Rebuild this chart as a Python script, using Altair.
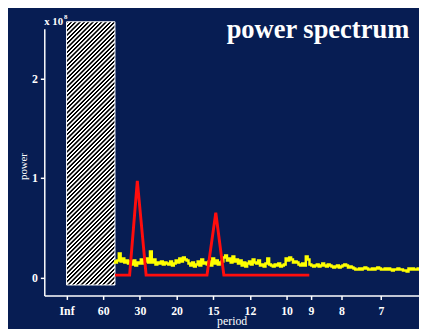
import altair as alt
import pandas as pd

# ---------------- data ----------------
period_labels = ["Inf", "60", "30", "20", "15", "12", "10", "9", "8", "7"]
power_ticks = [0, 1, 2]

# yellow spectrum, sampled on a regular frequency grid (cycles per 60 units)
yellow_freq_start = 1.30
yellow_freq_step = 0.05
yellow_power = [
    0.16, 0.15, 0.17, 0.24, 0.16, 0.19, 0.15, 0.17, 0.14, 0.16,
    0.13, 0.17, 0.12, 0.15, 0.14, 0.18, 0.14, 0.16, 0.19, 0.15,
    0.26, 0.15, 0.18, 0.13, 0.15, 0.14, 0.16, 0.13, 0.15, 0.14,
    0.13, 0.16, 0.12, 0.14, 0.17, 0.15, 0.19, 0.16, 0.20, 0.18,
    0.17, 0.14, 0.12, 0.15, 0.11, 0.13, 0.16, 0.12, 0.18, 0.14,
    0.15, 0.13, 0.16, 0.12, 0.19, 0.14, 0.17, 0.13, 0.15, 0.16,
    0.20, 0.22, 0.17, 0.19, 0.15, 0.21, 0.16, 0.18, 0.14, 0.17,
    0.12, 0.15, 0.11, 0.14, 0.16, 0.13, 0.18, 0.15, 0.14, 0.17,
    0.12, 0.13, 0.11, 0.14, 0.19, 0.13, 0.12, 0.11, 0.13, 0.12,
    0.14, 0.11, 0.12, 0.13, 0.19, 0.17, 0.20, 0.18, 0.15, 0.16,
    0.15, 0.13, 0.12, 0.14, 0.12, 0.21, 0.18, 0.13, 0.12, 0.11,
    0.12, 0.13, 0.11, 0.12, 0.14, 0.12, 0.11, 0.13, 0.12, 0.11,
    0.10, 0.11, 0.12, 0.10, 0.11, 0.12, 0.13, 0.12, 0.10, 0.11,
    0.10, 0.09, 0.08, 0.08, 0.09, 0.08, 0.09, 0.10, 0.09, 0.08,
    0.08, 0.09, 0.08, 0.09, 0.10, 0.09, 0.08, 0.08, 0.09, 0.08,
    0.09, 0.08, 0.07, 0.08, 0.08, 0.09, 0.08, 0.08, 0.07, 0.07,
    0.06, 0.09, 0.08, 0.09, 0.08, 0.08, 0.09, 0.08,
]

# red model spectrum
red_freq = [1.32, 1.72, 1.93, 2.17, 3.83, 4.07, 4.29, 6.62]
red_power = [0.023, 0.023, 0.97, 0.023, 0.023, 0.65, 0.023, 0.023]

# hatched (masked) band
mask_freq = [0.0, 1.32]
mask_power = [-0.076, 2.57]

# ---------------- layout / style ----------------
W, H = 382, 272
x_dom = [-0.607, 9.612]
y_dom = [-0.182, 2.50]
BG = "#071d53"
FONT = "Liberation Serif"

tick_pos = [0.0 if p == "Inf" else 60.0 / float(p) for p in period_labels]
label_expr = "datum.value < 0.001 ? 'Inf' : format(60 / datum.value, '.0f')"

yellow_df = pd.DataFrame({
    "freq": [yellow_freq_start + yellow_freq_step * i for i in range(len(yellow_power))],
    "power": yellow_power,
})
red_df = pd.DataFrame({"freq": red_freq, "power": red_power})
mask_df = pd.DataFrame({
    "freq": [mask_freq[0]], "freq2": [mask_freq[1]],
    "power": [mask_power[0]], "power2": [mask_power[1]],
})

# diagonal stripes via a linear gradient in bounding-box units
w_px = (mask_freq[1] - mask_freq[0]) * W / (x_dom[1] - x_dom[0])
h_px = (mask_power[1] - mask_power[0]) * H / (y_dom[1] - y_dom[0])
r = h_px / w_px
gdx = (1 + r) / (1 + r * r)
gdy = r * gdx
n_stripes = 72
stops = []
for k in range(n_stripes):
    stops.append(alt.GradientStop(offset=k / n_stripes, color="#000000"))
    stops.append(alt.GradientStop(offset=(k + 0.35) / n_stripes, color="#000000"))
    stops.append(alt.GradientStop(offset=(k + 0.5) / n_stripes, color="#ffffff"))
    stops.append(alt.GradientStop(offset=(k + 0.85) / n_stripes, color="#ffffff"))
stops.append(alt.GradientStop(offset=1.0, color="#000000"))
hatch = alt.LinearGradient(gradient="linear", stops=stops, x1=0, y1=0, x2=gdx, y2=gdy)

x_axis = alt.Axis(
    values=tick_pos, labelExpr=label_expr, title="period", grid=False,
    labelFont=FONT, labelFontWeight="bold", labelFontSize=12, labelColor="white",
    labelPadding=6, titleFont=FONT, titleFontSize=12, titleFontWeight="normal",
    titleColor="white", titlePadding=0, tickSize=4, tickColor="white", tickWidth=1.5,
    domainColor="white", domainWidth=1.5,
)
y_axis = alt.Axis(
    values=power_ticks, format="d", title="power", grid=False,
    labelFont=FONT, labelFontWeight="bold", labelFontSize=12, labelColor="white",
    labelPadding=3, titleFont=FONT, titleFontSize=11, titleFontWeight="normal",
    titleColor="white", titleX=-16, titleY=140, titleBaseline="bottom",
    tickSize=4, tickColor="white", tickWidth=1.5,
    domainColor="white", domainWidth=1.5,
)

xs = alt.Scale(domain=x_dom, nice=False, zero=False)
ys = alt.Scale(domain=y_dom, nice=False, zero=False)

X = alt.X("freq:Q", scale=xs, axis=x_axis)
Y = alt.Y("power:Q", scale=ys, axis=y_axis)

mask = alt.Chart(mask_df).mark_rect(fill=hatch, stroke="white", strokeWidth=1).encode(
    x=X, x2="freq2:Q", y=Y, y2="power2:Q",
)

yellow = alt.Chart(yellow_df).mark_line(
    color="#ffff00", strokeWidth=2.5, interpolate="step", clip=True
).encode(x=X, y=Y)

red = alt.Chart(red_df).mark_line(color="#ff0d0d", strokeWidth=3, clip=True).encode(x=X, y=Y)

title_txt = alt.Chart(pd.DataFrame({"t": ["power spectrum"]})).mark_text(
    font=FONT, fontSize=27, fontWeight="bold", color="white",
    align="right", baseline="alphabetic",
).encode(x=alt.value(372), y=alt.value(9), text="t:N")

scale_txt = alt.Chart(pd.DataFrame({"t": ["x 10"]})).mark_text(
    font=FONT, fontSize=11, fontWeight="bold", color="white",
    align="left", baseline="alphabetic",
).encode(x=alt.value(0), y=alt.value(-4), text="t:N")

exp_txt = alt.Chart(pd.DataFrame({"t": ["8"]})).mark_text(
    font=FONT, fontSize=7, fontWeight="bold", color="white",
    align="left", baseline="alphabetic",
).encode(x=alt.value(20), y=alt.value(-10), text="t:N")

chart = alt.layer(mask, yellow, red, title_txt, scale_txt, exp_txt).properties(
    width=W, height=H,
    padding={"left": 37, "top": 18, "right": 0, "bottom": 31},
    autosize=alt.AutoSizeParams(type="none"),
    background=BG,
).configure_view(stroke=None)

chart.save("out.html", embed_options={"renderer": "svg", "actions": False})
